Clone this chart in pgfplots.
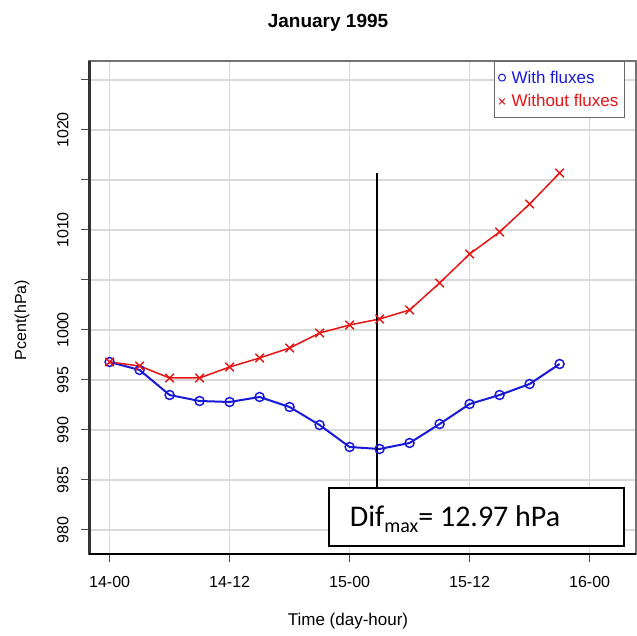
\documentclass[border=0pt]{standalone}
\usepackage{pgfplots}
\pgfplotsset{compat=1.18}
\usepackage{fontspec}
\setmainfont{Liberation Sans}
\newfontfamily\carlito{Carlito}
\definecolor{myblue}{RGB}{25,25,215}
\definecolor{myred}{RGB}{230,20,20}
\begin{document}
\begin{tikzpicture}
\begin{axis}[
  at={(89pt,82pt)}, anchor=south west,
  scale only axis, width=547pt, height=493pt,
  xmin=-2.06, xmax=52.64, ymin=977.6, ymax=1026.9,
  xtick={0,12,24,36,48}, xticklabels={14-00,14-12,15-00,15-12,16-00},
  ytick={980,985,...,1025}, yticklabels={980,985,990,995,1000,,1010,,1020,},
  grid=major, major grid style={black!15, line width=1.5pt},
  axis line style={black!55, line width=1.5pt},
  tick pos=left, tick align=outside, major tick length=8pt,
  tick style={black!70, line width=1pt},
  tick label style={font=\fontsize{16}{18}\selectfont},
  yticklabel style={rotate=90, anchor=south},
  yticklabel shift=9pt, xticklabel shift=11pt,
  title={January 1995},
  title style={at={(axis description cs:0.437,1.083)}, anchor=center, yshift=-9pt, font=\bfseries\fontsize{19}{22}\selectfont},
  xlabel={Time (day-hour)},
  xlabel style={at={(axis description cs:0.4735,-0.136)}, anchor=center, font=\fontsize{17}{20}\selectfont},
  ylabel={Pcent(hPa)},
  ylabel style={at={(axis description cs:-0.1225,0.4746)}, anchor=center, rotate=0, font=\fontsize{16}{18}\selectfont},
  legend style={at={(axis description cs:0.74,1.0)}, anchor=north west, draw=black!60, line width=1.5pt, fill=white,
    font=\fontsize{17}{19}\selectfont, row sep=6pt, inner xsep=4pt, inner ysep=7pt},
  legend cell align=left,
]
\addplot[myblue, line width=2pt, mark=o, mark size=4.5pt, mark options={line width=1.5pt}, forget plot] coordinates {
(0,996.8) (3,996.0) (6,993.5) (9,992.9) (12,992.8) (15,993.3) (18,992.3) (21,990.5)
(24,988.3) (27,988.1) (30,988.7) (33,990.6) (36,992.6) (39,993.5) (42,994.6) (45,996.6)};
\addplot[myred, line width=1.5pt, mark=x, mark size=6pt, mark options={line width=1.5pt}, forget plot] coordinates {
(0,996.8) (3,996.4) (6,995.2) (9,995.2) (12,996.3) (15,997.2) (18,998.2) (21,999.7)
(24,1000.5) (27,1001.1) (30,1002.0) (33,1004.7) (36,1007.6) (39,1009.8) (42,1012.6) (45,1015.7)};
\addlegendimage{only marks, mark=o, myblue, mark size=3.5pt, line width=1pt}
\addlegendentry{\hspace{4pt}\textcolor{myblue}{With fluxes}}
\addlegendimage{only marks, mark=x, myred, mark size=4pt, line width=1pt}
\addlegendentry{\hspace{4pt}\textcolor{myred}{Without fluxes}\hspace{6pt}}
\draw[black, line width=2pt] (axis cs:26.74,1015.7) -- (axis cs:26.74,984.2);
\draw[black, line width=1.5pt, fill=white] (axis cs:21.94,984.2) rectangle (axis cs:51.44,978.4);
\node[anchor=base west, font=\carlito\fontsize{30}{36}\selectfont, inner sep=0pt] at (axis cs:24.0,980.3)
  {Dif\raisebox{-6pt}{\fontsize{20}{20}\selectfont max}= 12.97 hPa};
\end{axis}
\draw[black!80, line width=3pt] (89pt,82pt) -- (89pt,575pt);
\draw[black, line width=2pt] (89pt,82pt) -- (636pt,82pt);
\pgfresetboundingbox
\path (0,0) rectangle (637pt,636pt);
\end{tikzpicture}
\end{document}
